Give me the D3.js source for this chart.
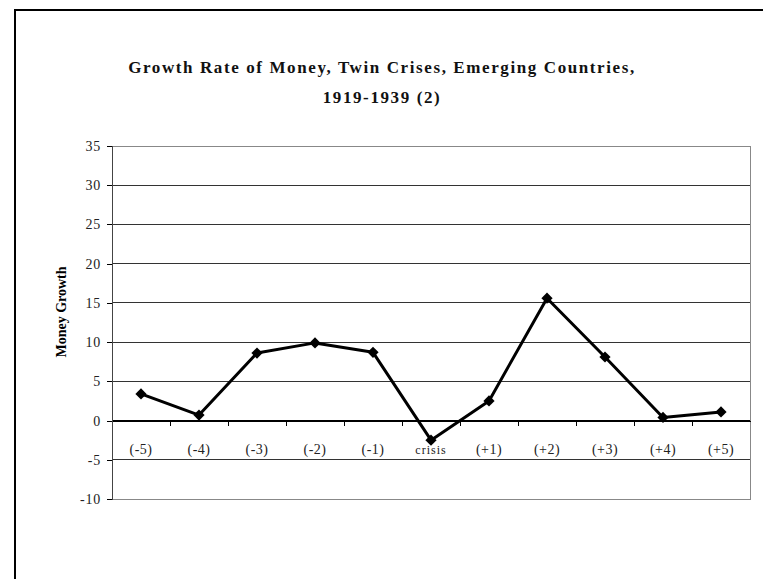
<!DOCTYPE html>
<html><head><meta charset="utf-8">
<script src="https://cdn.jsdelivr.net/npm/d3@7"></script>
<style>body{margin:0;background:#fff;} svg{display:block;}</style>
</head><body>
<script>
const categories = ["(-5)","(-4)","(-3)","(-2)","(-1)","crisis","(+1)","(+2)","(+3)","(+4)","(+5)"];
const values = [3.4, 0.7, 8.6, 9.9, 8.7, -2.5, 2.5, 15.6, 8.1, 0.4, 1.1];
const yTicks = [-10,-5,0,5,10,15,20,25,30,35];
const titleLines = ["Growth Rate of Money, Twin Crises, Emerging Countries,", "1919-1939 (2)"];
const yLabel = "Money Growth";

const W = 763, H = 579;
const svg = d3.select("body").append("svg").attr("width", W).attr("height", H);
const font = "'Liberation Serif', 'DejaVu Serif', serif";

// outer border
svg.append("rect").attr("x", 15).attr("y", 10).attr("width", 800).attr("height", 700)
  .attr("fill", "none").attr("stroke", "#000").attr("stroke-width", 2);

const L = 112, R = 750, T = 146, B = 499;
const x = d3.scaleBand().domain(categories).range([L, R]).padding(0);
const y = d3.scaleLinear().domain([-10, 35]).range([B, T]);

// gridlines
svg.append("g").selectAll("line").data(yTicks).join("line")
  .attr("x1", L).attr("x2", R).attr("y1", d => y(d)).attr("y2", d => y(d))
  .attr("stroke", d => d === 0 ? "#000" : "#333").attr("stroke-width", 1).attr("shape-rendering","crispEdges");
// plot border
svg.append("rect").attr("x", L).attr("y", T).attr("width", R - L).attr("height", B - T)
  .attr("fill", "none").attr("stroke", "#888").attr("stroke-width", 1).attr("shape-rendering","crispEdges");

// y axis
const yAxis = d3.axisLeft(y).tickValues(yTicks).tickSize(5).tickPadding(6).tickFormat(d => String(d));
const gy = svg.append("g").attr("transform", `translate(${L},0)`).call(yAxis);
gy.select(".domain").attr("stroke", "#444").attr("shape-rendering","crispEdges");
gy.selectAll(".tick line").attr("stroke", "#000").attr("shape-rendering","crispEdges");
gy.selectAll("text").attr("font-family", font).attr("font-size", 14).attr("letter-spacing", 0.8).attr("fill", "#222");

// x axis at 0
const xAxis = d3.axisBottom(x).tickSize(0).tickPadding(0).tickFormat(() => "");
const gx = svg.append("g").attr("transform", `translate(0,${y(0)})`).call(xAxis);
gx.select(".domain").attr("stroke", "#000").attr("shape-rendering","crispEdges");
// tick marks between categories
const bounds = categories.slice(1).map(c => x(c));
gx.selectAll(".sep").data(bounds).join("line").attr("class","sep")
  .attr("x1", d => d).attr("x2", d => d).attr("y1", 0).attr("y2", 5)
  .attr("stroke", "#000").attr("shape-rendering","crispEdges");
// category labels
svg.append("g").selectAll("text").data(categories).join("text")
  .attr("x", d => x(d) + x.bandwidth() / 2).attr("y", y(0) + 33)
  .attr("text-anchor", "middle").attr("font-family", font)
  .attr("font-size", d => d === "crisis" ? 12 : 14).attr("letter-spacing", d => d === "crisis" ? 1 : 0.5)
  .attr("fill", "#222")
  .text(d => d.replace("+", "+ ").replace("(+ ", "(+"));

// line
const line = d3.line().x((d, i) => x(categories[i]) + x.bandwidth() / 2).y(d => y(d));
svg.append("path").datum(values).attr("d", line).attr("fill", "none")
  .attr("stroke", "#000").attr("stroke-width", 3).attr("stroke-linejoin", "round");
// diamonds
svg.append("g").selectAll("path").data(values).join("path")
  .attr("transform", (d, i) => `translate(${x(categories[i]) + x.bandwidth() / 2},${y(d)})`)
  .attr("d", d3.symbol().type(d3.symbolDiamond2).size(80)).attr("fill", "#000");

// title
svg.append("g").selectAll("text").data(titleLines).join("text")
  .attr("x", 382).attr("y", (d, i) => 73 + i * 30)
  .attr("text-anchor", "middle").attr("font-family", font).attr("font-size", 17)
  .attr("font-weight", "bold").attr("letter-spacing", 1.6).attr("fill", "#111").text(d => d);

// y label
svg.append("text").attr("transform", `translate(66,312) rotate(-90)`)
  .attr("text-anchor", "middle").attr("font-family", font).attr("font-size", 14)
  .attr("font-weight", "bold").attr("fill", "#000").text(yLabel);
</script>
</body></html>
